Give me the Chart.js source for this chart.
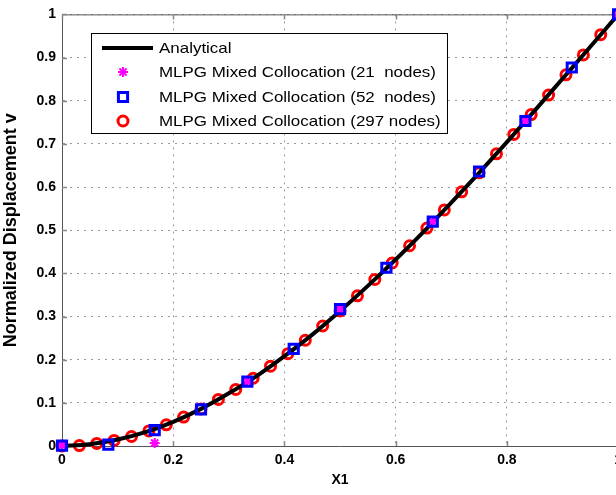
<!DOCTYPE html>
<html>
<head>
<meta charset="utf-8">
<script src="https://cdn.jsdelivr.net/npm/chart.js@4.4.0/dist/chart.umd.min.js"></script>
<style>
  html, body { margin: 0; padding: 0; background: #fff; overflow: hidden; width: 616px; height: 495px; }
  #wrap { width: 628px; height: 495px; position: absolute; left: 0; top: 0; }
</style>
</head>
<body>
<div id="wrap"><canvas id="c" width="628" height="495" style="width:628px;height:495px"></canvas></div>
<script>
// Analytical deflection curve
const analyticX = [0, 0.05, 0.1, 0.15, 0.2, 0.25, 0.3, 0.35, 0.4, 0.45, 0.5,
                   0.55, 0.6, 0.65, 0.7, 0.75, 0.8, 0.85, 0.9, 0.95, 1];
const analyticV = [0, 0.004, 0.015, 0.032, 0.056, 0.086, 0.122, 0.162, 0.208, 0.258, 0.313,
                   0.371, 0.432, 0.496, 0.564, 0.633, 0.704, 0.777, 0.851, 0.925, 1];

// MLPG mixed collocation, 21 nodes
const nodes21X = [0, 0.1667, 0.3333, 0.5, 0.6667, 0.8333, 1];
const nodes21V = [0.001, 0.007, 0.149, 0.317, 0.520, 0.753, 1];

// MLPG mixed collocation, 52 nodes
const nodes52X = [0, 0.0833, 0.1667, 0.25, 0.3333, 0.4167, 0.5, 0.5833, 0.6667, 0.75, 0.8333, 0.9167, 1];
const nodes52V = [0.001, 0.003, 0.037, 0.085, 0.149, 0.225, 0.317, 0.413, 0.520, 0.636, 0.753, 0.877, 1];

// MLPG mixed collocation, 297 nodes
const nodes297X = [0, 0.03125, 0.0625, 0.09375, 0.125, 0.15625, 0.1875, 0.21875, 0.25, 0.28125,
                   0.3125, 0.34375, 0.375, 0.40625, 0.4375, 0.46875, 0.5, 0.53125, 0.5625, 0.59375,
                   0.625, 0.65625, 0.6875, 0.71875, 0.75, 0.78125, 0.8125, 0.84375, 0.875, 0.90625,
                   0.9375, 0.96875, 1];
const nodes297V = [0, 0.001, 0.006, 0.013, 0.022, 0.035, 0.049, 0.067, 0.086, 0.108,
                   0.131, 0.157, 0.185, 0.214, 0.245, 0.278, 0.313, 0.348, 0.386, 0.424,
                   0.464, 0.505, 0.547, 0.589, 0.633, 0.677, 0.722, 0.768, 0.813, 0.860,
                   0.906, 0.953, 1];

const xTicks = [0, 0.2, 0.4, 0.6, 0.8, 1];
const yTicks = [0, 0.1, 0.2, 0.3, 0.4, 0.5, 0.6, 0.7, 0.8, 0.9, 1];

const seriesLabels = [
  'Analytical',
  'MLPG Mixed Collocation (21  nodes)',
  'MLPG Mixed Collocation (52  nodes)',
  'MLPG Mixed Collocation (297 nodes)'
];

const toPoints = (xs, ys) => xs.map((x, i) => ({ x: x, y: ys[i] }));

const FONT = '"Liberation Sans", Arial, Helvetica, sans-serif';
const AXIS_COLOR = '#555555';
const GRID_COLOR = '#999999';

const styles = [
  { kind: 'line', color: '#000000', width: 4 },
  { kind: 'point', pointStyle: 'star', color: '#ff00ff', radius: 5, width: 2 },
  { kind: 'point', pointStyle: 'rect', color: '#0000ff', radius: 6.5, width: 3 },
  { kind: 'point', pointStyle: 'circle', color: '#ff0000', radius: 5, width: 3 }
];

// Frame: top border and inward tick marks
const framePlugin = {
  id: 'frame',
  beforeDatasetsDraw(chart) {
    const { ctx, chartArea: a, scales: { x, y } } = chart;
    ctx.save();
    ctx.strokeStyle = AXIS_COLOR;
    ctx.lineWidth = 1;
    ctx.beginPath();
    ctx.moveTo(a.left, a.top + 0.5);
    ctx.lineTo(a.right, a.top + 0.5);
    ctx.stroke();
    ctx.strokeStyle = '#888888';
    ctx.lineWidth = 1.5;
    ctx.beginPath();
    xTicks.forEach(v => {
      const px = Math.round(x.getPixelForValue(v)) + 0.5;
      ctx.moveTo(px, a.bottom); ctx.lineTo(px, a.bottom - 5);
      ctx.moveTo(px, a.top); ctx.lineTo(px, a.top + 5);
    });
    yTicks.forEach(v => {
      const py = Math.round(y.getPixelForValue(v)) + 0.5;
      ctx.moveTo(a.left, py); ctx.lineTo(a.left + 5, py);
    });
    ctx.stroke();
    ctx.restore();
  }
};

// Boxed legend inside the plot area
const boxLegendPlugin = {
  id: 'boxLegend',
  afterDraw(chart) {
    const { ctx } = chart;
    const left = 91, top = 33, right = 448, bottom = 134;
    const rowY = [48, 72, 97, 121];
    ctx.save();
    ctx.fillStyle = '#ffffff';
    ctx.fillRect(left, top, right - left, bottom - top);
    ctx.strokeStyle = '#000000';
    ctx.lineWidth = 1;
    ctx.strokeRect(left + 0.5, top + 0.5, right - left - 1, bottom - top - 1);
    seriesLabels.forEach((label, i) => {
      const s = styles[i];
      const cy = rowY[i];
      if (s.kind === 'line') {
        ctx.strokeStyle = s.color;
        ctx.lineWidth = s.width;
        ctx.beginPath();
        ctx.moveTo(102, cy); ctx.lineTo(153, cy);
        ctx.stroke();
      } else {
        ctx.strokeStyle = s.color;
        ctx.fillStyle = 'rgba(0,0,0,0)';
        ctx.lineWidth = s.width;
        Chart.helpers.drawPoint(ctx, { pointStyle: s.pointStyle, radius: s.radius, borderWidth: s.width, rotation: 0 }, 123, cy);
      }
      ctx.save();
      ctx.translate(159, cy);
      ctx.scale(1.13, 1);
      ctx.fillStyle = '#000000';
      ctx.font = '15px ' + FONT;
      ctx.textBaseline = 'middle';
      ctx.textAlign = 'left';
      ctx.fillText(label, 0, 1);
      ctx.restore();
    });
    ctx.restore();
  }
};

const ptDataset = (label, xs, ys, s, order) => ({
  label: label,
  data: toPoints(xs, ys),
  showLine: false,
  pointStyle: s.pointStyle,
  pointRadius: s.radius,
  pointHoverRadius: s.radius,
  pointBorderWidth: s.width,
  pointBorderColor: s.color,
  pointBackgroundColor: 'rgba(0,0,0,0)',
  clip: false,
  order: order
});

new Chart(document.getElementById('c'), {
  type: 'scatter',
  data: {
    datasets: [
      {
        label: seriesLabels[0],
        data: toPoints(analyticX, analyticV),
        showLine: true,
        borderColor: styles[0].color,
        borderWidth: styles[0].width,
        pointRadius: 0,
        cubicInterpolationMode: 'monotone',
        fill: false,
        clip: false,
        order: 3
      },
      ptDataset(seriesLabels[1], nodes21X, nodes21V, styles[1], 2),
      ptDataset(seriesLabels[2], nodes52X, nodes52V, styles[2], 1),
      ptDataset(seriesLabels[3], nodes297X, nodes297V, styles[3], 4)
    ]
  },
  options: {
    responsive: false,
    maintainAspectRatio: false,
    animation: false,
    devicePixelRatio: 1,
    layout: { padding: { top: 12, right: 0, left: 0, bottom: 0 } },
    plugins: { legend: { display: false }, tooltip: { enabled: false } },
    scales: {
      x: {
        type: 'linear',
        min: 0, max: 1,
        afterBuildTicks: s => { s.ticks = xTicks.map(v => ({ value: v })); },
        afterFit: s => { s.height = 49; },
        ticks: {
          autoSkip: false, maxRotation: 0, padding: 6, color: '#000',
          font: { family: FONT, size: 14, weight: 'bold' },
          callback: v => String(v)
        },
        grid: { color: GRID_COLOR, lineWidth: 1, drawTicks: false },
        border: { display: true, color: AXIS_COLOR, width: 1, dash: [2, 5] },
        title: {
          display: true, text: 'X1', color: '#000',
          font: { family: FONT, size: 14, weight: 'bold' },
          padding: { top: 0, bottom: 6 }
        }
      },
      y: {
        type: 'linear',
        min: 0, max: 1,
        afterBuildTicks: s => { s.ticks = yTicks.map(v => ({ value: v })); },
        afterFit: s => { s.width = 62; },
        ticks: {
          autoSkip: false, padding: 6, color: '#000',
          font: { family: FONT, size: 14, weight: 'bold' },
          callback: v => String(v)
        },
        grid: { color: GRID_COLOR, lineWidth: 1, drawTicks: false },
        border: { display: true, color: AXIS_COLOR, width: 1, dash: [2, 5] },
        title: {
          display: true, text: 'Normalized Displacement v', color: '#000',
          font: { family: FONT, size: 18, weight: 'bold' },
          padding: { top: 0, bottom: 0 }
        }
      }
    }
  },
  plugins: [framePlugin, boxLegendPlugin]
});
</script>
</body>
</html>
